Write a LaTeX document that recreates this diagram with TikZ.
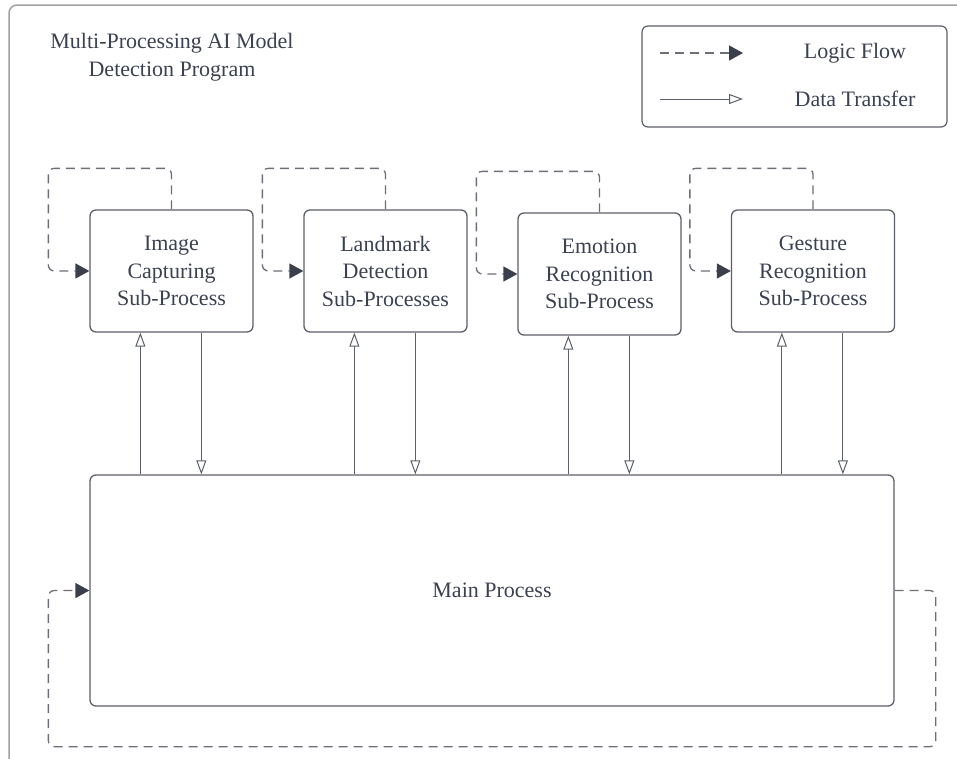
\documentclass[tikz,border=0pt]{standalone}
\usepackage{fontspec}
\setmainfont{Liberation Serif}
\usetikzlibrary{arrows.meta,calc}
\definecolor{txt}{HTML}{3B4150}
\definecolor{boxline}{HTML}{5C6069}
\definecolor{frameline}{HTML}{A0A0A0}
\definecolor{dashline}{HTML}{6C6F77}
\definecolor{headfill}{HTML}{3A3F4B}
\tikzset{
  procbox/.style={draw=boxline, line width=1.3pt, rounded corners=6pt,
    minimum width=163pt, minimum height=122pt, inner sep=0pt,
    align=center, text=txt, font=\fontsize{22}{27.5}\selectfont},
  logic/.style={draw=dashline, line width=1.3pt, dash pattern=on 9pt off 6pt,
    rounded corners=6pt,
    -{Triangle[length=14pt,width=15pt,fill=headfill,color=headfill,sep=0pt]}},
  data/.style={draw=boxline, line width=1pt,
    -{Triangle[open,length=14pt,width=10pt,fill=white]}},
  label/.style={text=txt, font=\fontsize{22}{28}\selectfont, align=center}
}
\begin{document}
\begin{tikzpicture}[x=1pt,y=-1pt]
\useasboundingbox (0,0) rectangle (957,758);
% outer frame, running off the page on the right and at the bottom
\begin{scope}
  \clip (0,0) rectangle (957,758);
  \draw[frameline, line width=1.5pt, rounded corners=8pt] (9,5) rectangle (985,790);
\end{scope}

% title
\node[label] (title) at (172,57) {Multi-Processing AI Model\\Detection Program};

% legend
\node[draw=boxline, line width=1.2pt, rounded corners=6pt,
      minimum width=305pt, minimum height=101pt] (legend) at (794.5,76.5) {};
\coordinate (lfa) at (660,53);
\coordinate (lfb) at (743,53);
\coordinate (dta) at (660,99);
\coordinate (dtb) at (743,99);
\draw[logic] (lfa) -- (lfb);
\draw[data] (dta) -- (dtb);
\node[label] (lflabel) at (855,53) {Logic Flow};
\node[label] (dtlabel) at (855,99) {Data Transfer};

% sub-processes
\node[procbox] (b1) at (171.5,271) {Image\\Capturing\\Sub-Process};
\node[procbox] (b2) at (385.5,271) {Landmark\\Detection\\Sub-Processes};
\node[procbox] (b3) at (599.5,274) {Emotion\\Recognition\\Sub-Process};
\node[procbox] (b4) at (813,271) {Gesture\\Recognition\\Sub-Process};

% main process
\node[procbox, minimum width=804pt, minimum height=231pt] (m) at (492,590.5) {Main Process};

% self loops of the sub-processes
\foreach \b in {b1,b2,b3,b4}{
  \draw[logic] (\b.north) -- ++(0,-41) -| ($(\b.west)+(-41,0)$) -- (\b.west);
}

% loop of the main process
\draw[logic] (m.east) -- ++(41,0) |- ($(m.south west)+(-41,40)$) |- (m.west);

% data transfer between the main process and each sub-process
\foreach \b in {b1,b2,b3,b4}{
  \coordinate (up\b) at ($(\b.south west)+(51,0)$);
  \coordinate (dn\b) at ($(\b.south west)+(112,0)$);
  \draw[data] (up\b |- m.north) -- (up\b);
  \draw[data] (dn\b) -- (dn\b |- m.north);
}
\end{tikzpicture}
\end{document}
